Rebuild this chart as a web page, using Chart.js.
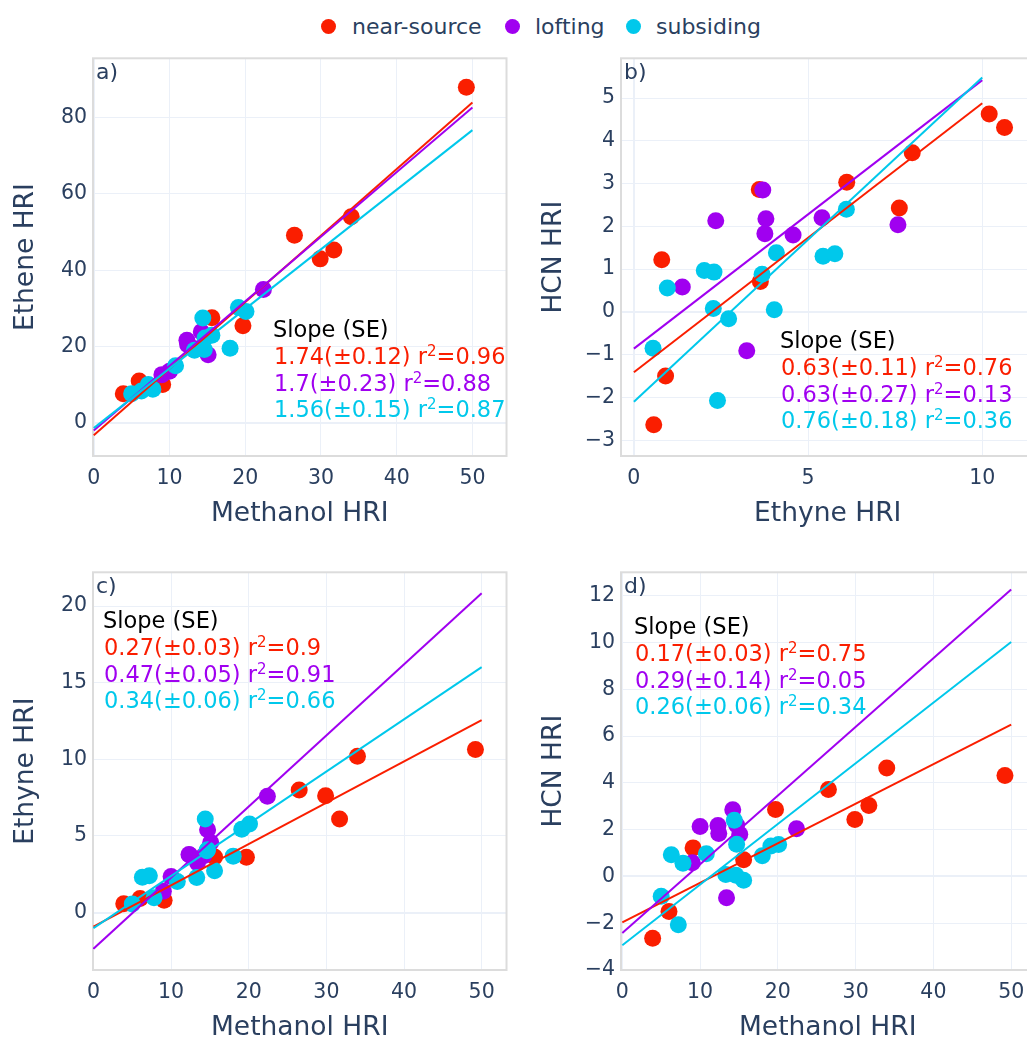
<!DOCTYPE html>
<html>
<head>
<meta charset="utf-8">
<script src="https://cdn.jsdelivr.net/npm/chart.js@4.4.1/dist/chart.umd.min.js"></script>
<style>
  body { margin: 0; width: 1027px; height: 1042px; overflow: hidden; background: #fff; position: relative; font-family: "DejaVu Sans"; }
  canvas { position: absolute; }
  .dot { position: absolute; width: 15px; height: 15px; border-radius: 50%; top: 19px; }
  .txt { position: absolute; top: 12px; line-height: 30px; font-size: 22px; color: #2a3f5f; white-space: nowrap; }
</style>
</head>
<body>
<script>
// groups
const groupNames = ["near-source", "lofting", "subsiding"];
const groupColors = ["#fa1e00", "#a000f0", "#00c8eb"];

// near-source samples
const nearMethanol = [3.9, 6.0, 9.1, 15.6, 19.7, 26.5, 29.9, 31.7, 34.0, 49.2];
const nearEthene = [7.7, 11.0, 10.1, 27.6, 25.5, 49.2, 43.0, 45.3, 54.0, 87.9];
const nearEthyne = [0.57, 0.91, 0.8, 3.63, 3.6, 7.99, 7.62, 6.11, 10.2, 10.64];
const nearHCN = [-2.64, -1.5, 1.22, 0.71, 2.86, 3.72, 2.43, 3.03, 4.63, 4.31];

// lofting samples
const loftMethanol = [9.0, 10.0, 12.3, 12.4, 13.4, 14.2, 14.7, 15.1, 22.4];
const loftEthene = [12.7, 13.6, 21.7, 20.5, 19.5, 23.9, 22.5, 17.9, 35.0];
const loftEthyne = [1.39, 2.35, 3.79, 3.76, 3.24, 3.7, 5.4, 4.57, 7.58];
const loftHCN = [0.58, 2.13, 2.18, 1.83, -0.91, 2.85, 2.2, 1.8, 2.04];

// subsiding samples
const subMethanol = [5.0, 6.3, 7.2, 7.8, 10.8, 13.3, 14.4, 14.7, 14.6, 15.6, 18.0, 19.1, 20.1];
const subEthene = [7.7, 8.4, 10.1, 8.85, 15.0, 19.1, 27.5, 22.3, 19.3, 23.0, 19.6, 30.3, 29.2];
const subEthyne = [0.55, 2.3, 2.4, 0.96, 2.02, 2.28, 6.1, 4.09, 4.03, 2.72, 3.68, 5.43, 5.77];
const subHCN = [-0.85, 0.93, -2.07, 0.56, 0.97, 0.08, 2.4, 1.38, 0.05, -0.16, 0.88, 1.3, 1.36];

// fit lines (near-source, lofting, subsiding)
const aFitSlope = [1.742, 1.69, 1.56];
const aFitIntercept = [-3.17, -1.9, -1.3];
const bFitSlope = [0.629, 0.628, 0.758];
const bFitIntercept = [-1.41, -0.86, -2.1];
const cFitSlope = [0.2696, 0.464, 0.3406];
const cFitIntercept = [-0.92, -2.36, -1.02];
const dFitSlope = [0.169, 0.2936, 0.2592];
const dFitIntercept = [-1.96, -2.42, -2.94];

// annotation text
const aSlopeText = ["1.74(±0.12)", "1.7(±0.23)", "1.56(±0.15)"];
const aR2Text = ["0.96", "0.88", "0.87"];
const bSlopeText = ["0.63(±0.11)", "0.63(±0.27)", "0.76(±0.18)"];
const bR2Text = ["0.76", "0.13", "0.36"];
const cSlopeText = ["0.27(±0.03)", "0.47(±0.05)", "0.34(±0.06)"];
const cR2Text = ["0.9", "0.91", "0.66"];
const dSlopeText = ["0.17(±0.03)", "0.29(±0.14)", "0.26(±0.06)"];
const dR2Text = ["0.75", "0.05", "0.34"];

// tick labels
const methanolTicks = [0, 10, 20, 30, 40, 50];
const aYTicks = [0, 20, 40, 60, 80];
const bXTicks = [0, 5, 10];
const bYTicks = [-3, -2, -1, 0, 1, 2, 3, 4, 5];
const cYTicks = [0, 5, 10, 15, 20];
const dYTicks = [-4, -2, 0, 2, 4, 6, 8, 10, 12];

const FONT = "DejaVu Sans";
const TEXT = "#2a3f5f";

// legend
[[328, 352], [512, 535], [633, 656]].forEach(([dx, tx], i) => {
  const d = document.createElement("div");
  d.className = "dot";
  d.style.left = (dx - 7.5) + "px";
  d.style.background = groupColors[i];
  document.body.appendChild(d);
  const t = document.createElement("div");
  t.className = "txt";
  t.style.left = tx + "px";
  t.textContent = groupNames[i];
  document.body.appendChild(t);
});

const panels = [
  {
    label: "a)", left: 0, top: 40,
    xs: [nearMethanol, loftMethanol, subMethanol], ys: [nearEthene, loftEthene, subEthene],
    xTitle: "Methanol HRI", yTitle: "Ethene HRI",
    xMin: -0.1, xMax: 54.5, yMin: -8.6, yMax: 95.5,
    xTicks: methanolTicks, yTicks: aYTicks, lineX: [0, 50],
    slope: aFitSlope, intercept: aFitIntercept, slopeText: aSlopeText, r2Text: aR2Text,
    noteX: 273, noteY: 289
  },
  {
    label: "b)", left: 528, top: 40,
    xs: [nearEthyne, loftEthyne, subEthyne], ys: [nearHCN, loftHCN, subHCN],
    xTitle: "Ethyne HRI", yTitle: "HCN HRI",
    xMin: -0.37, xMax: 11.5, yMin: -3.37, yMax: 5.93,
    xTicks: bXTicks, yTicks: bYTicks, lineX: [0, 10],
    slope: bFitSlope, intercept: bFitIntercept, slopeText: bSlopeText, r2Text: bR2Text,
    noteX: 252, noteY: 300
  },
  {
    label: "c)", left: 0, top: 554,
    xs: [nearMethanol, loftMethanol, subMethanol], ys: [nearEthyne, loftEthyne, subEthyne],
    xTitle: "Methanol HRI", yTitle: "Ethyne HRI",
    xMin: -0.06, xMax: 53.2, yMin: -3.75, yMax: 22.2,
    xTicks: methanolTicks, yTicks: cYTicks, lineX: [0, 50],
    slope: cFitSlope, intercept: cFitIntercept, slopeText: cSlopeText, r2Text: cR2Text,
    noteX: 103, noteY: 66
  },
  {
    label: "d)", left: 528, top: 554,
    xs: [nearMethanol, loftMethanol, subMethanol], ys: [nearHCN, loftHCN, subHCN],
    xTitle: "Methanol HRI", yTitle: "HCN HRI",
    xMin: -0.17, xMax: 53.0, yMin: -4.0, yMax: 13.0,
    xTicks: methanolTicks, yTicks: dYTicks, lineX: [0, 50],
    slope: dFitSlope, intercept: dFitIntercept, slopeText: dSlopeText, r2Text: dR2Text,
    noteX: 106, noteY: 72
  }
];

function drawNote(ctx, p) {
  const big = "22.5px '" + FONT + "'";
  ctx.save();
  ctx.textAlign = "left";
  ctx.textBaseline = "alphabetic";
  ctx.font = big;
  ctx.fillStyle = "#000";
  const step = 26.8;
  ctx.fillText("Slope (SE)", p.noteX, p.noteY + 8);
  for (let i = 0; i < 3; i++) {
    const y = p.noteY + step * (i + 1) + 8;
    let x = p.noteX + 1;
    ctx.fillStyle = groupColors[i];
    ctx.font = big;
    const first = p.slopeText[i] + " r";
    ctx.fillText(first, x, y);
    x += ctx.measureText(first).width;
    ctx.font = "15px '" + FONT + "'";
    ctx.fillText("2", x, y - 8);
    x += ctx.measureText("2").width;
    ctx.font = big;
    ctx.fillText("=" + p.r2Text[i], x, y);
  }
  ctx.restore();
}

const panelDecor = {
  id: "panelDecor",
  beforeDatasetsDraw(chart) {
    const a = chart.chartArea, ctx = chart.ctx;
    ctx.save();
    ctx.strokeStyle = "#dcdcdc";
    ctx.lineWidth = 2;
    ctx.strokeRect(a.left, a.top, a.right - a.left, a.bottom - a.top);
    ctx.restore();
  },
  afterDraw(chart) {
    const p = chart.options.plugins.panelDecor.panel;
    const ctx = chart.ctx, a = chart.chartArea;
    ctx.save();
    ctx.font = "22px '" + FONT + "'";
    ctx.fillStyle = TEXT;
    ctx.textBaseline = "middle";
    ctx.fillText(p.label, a.left + 3, a.top + 15);
    ctx.restore();
    drawNote(ctx, p);
  }
};

const tickText = v => (v < 0 ? "\u2212" + Math.abs(v) : String(v));

panels.forEach(p => {
  const canvas = document.createElement("canvas");
  canvas.width = 515;
  canvas.height = 500;
  canvas.style.left = p.left + "px";
  canvas.style.top = p.top + "px";
  document.body.appendChild(canvas);

  const datasets = [];
  for (let i = 0; i < 3; i++) {
    datasets.push({
      type: "scatter",
      label: groupNames[i],
      data: p.xs[i].map((v, j) => ({ x: v, y: p.ys[i][j] })),
      backgroundColor: groupColors[i],
      borderWidth: 0,
      pointRadius: 8.5,
      pointHoverRadius: 8.5,
      order: 6 - i
    });
  }
  for (let i = 0; i < 3; i++) {
    datasets.push({
      type: "scatter",
      label: groupNames[i] + " fit",
      data: p.lineX.map(x => ({ x: x, y: p.slope[i] * x + p.intercept[i] })),
      showLine: true,
      borderColor: groupColors[i],
      borderWidth: 2,
      pointRadius: 0,
      order: 3 - i
    });
  }

  const gridStyle = {
    color: "#ebf0f8",
    lineWidth: c => (c.tick && c.tick.value === 0 ? 2 : 1),
    drawTicks: false
  };

  new Chart(canvas, {
    type: "scatter",
    data: { datasets: datasets },
    options: {
      responsive: false,
      animation: false,
      devicePixelRatio: 1,
      layout: { padding: { left: 0, top: 11, right: 6, bottom: 0 } },
      plugins: {
        legend: { display: false },
        tooltip: { enabled: false },
        panelDecor: { panel: p }
      },
      scales: {
        x: {
          type: "linear",
          min: p.xMin,
          max: p.xMax,
          afterBuildTicks: s => { s.ticks = p.xTicks.map(v => ({ value: v })); },
          afterFit: s => { s.height = 84; },
          grid: gridStyle,
          border: { display: false },
          ticks: { font: { family: FONT, size: 20.5 }, color: TEXT, padding: 10, maxRotation: 0, autoSkip: false, callback: tickText },
          title: { display: true, text: p.xTitle, font: { family: FONT, size: 26.5 }, color: TEXT, padding: { top: 0, bottom: 10 } }
        },
        y: {
          type: "linear",
          min: p.yMin,
          max: p.yMax,
          afterBuildTicks: s => { s.ticks = p.yTicks.map(v => ({ value: v })); },
          afterFit: s => { s.width = 93; },
          grid: gridStyle,
          border: { display: false },
          ticks: { font: { family: FONT, size: 20.5 }, color: TEXT, padding: 6, autoSkip: false, callback: tickText },
          title: { display: true, text: p.yTitle, font: { family: FONT, size: 26.5 }, color: TEXT, padding: { top: 10, bottom: 0 } }
        }
      }
    },
    plugins: [panelDecor]
  });
});
</script>
</body>
</html>
